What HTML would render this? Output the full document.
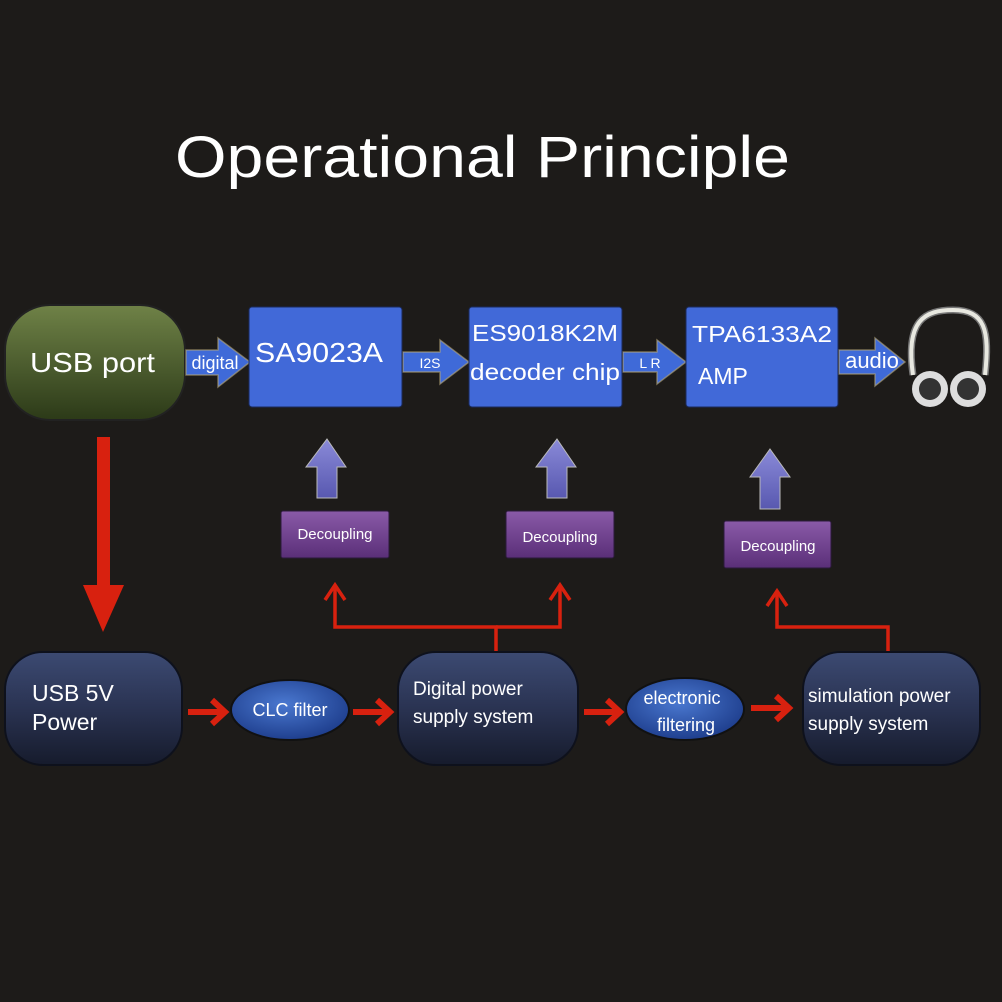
<!DOCTYPE html>
<html><head><meta charset="utf-8"><style>
html,body{margin:0;padding:0;background:#1d1b19;}
svg{display:block}
text{font-family:"Liberation Sans",sans-serif;fill:#fff}
</style></head><body>
<svg width="1002" height="1002" viewBox="0 0 1002 1002" xmlns="http://www.w3.org/2000/svg">
<defs>
<linearGradient id="gg" x1="0" y1="0" x2="0" y2="1"><stop offset="0" stop-color="#6f8247"/><stop offset="1" stop-color="#2c3a18"/></linearGradient>
<linearGradient id="nb" x1="0" y1="0" x2="0" y2="1"><stop offset="0" stop-color="#3c4a72"/><stop offset="0.5" stop-color="#2a3352"/><stop offset="1" stop-color="#161b2c"/></linearGradient>
<radialGradient id="el" cx="0.45" cy="0.4" r="0.6"><stop offset="0" stop-color="#4a78d0"/><stop offset="1" stop-color="#1f3f8e"/></radialGradient>
<linearGradient id="pu" x1="0" y1="0" x2="0" y2="1"><stop offset="0" stop-color="#8a5aa8"/><stop offset="1" stop-color="#5a2f78"/></linearGradient>
<linearGradient id="pa" x1="0" y1="0" x2="0" y2="1"><stop offset="0" stop-color="#8a8ad8"/><stop offset="1" stop-color="#5858b0"/></linearGradient>
</defs>
<rect width="1002" height="1002" fill="#1d1b19"/>
<text x="175" y="177" font-size="58" textLength="615" lengthAdjust="spacingAndGlyphs" fill="#fff">Operational Principle</text>

<!-- USB port -->
<rect x="5" y="305" width="180" height="115" rx="45" fill="url(#gg)" stroke="#222" stroke-width="2"/>
<text x="30" y="372" font-size="28" textLength="125" lengthAdjust="spacingAndGlyphs">USB port</text>

<!-- blue arrows -->
<g fill="#3f6ad8" stroke="#b8a878" stroke-width="1.5" stroke-opacity="0.6">
<polygon points="186,350 218,350 218,338 250,362 218,387 218,375 186,375"/>
<polygon points="403,352 440,352 440,340 469,362 440,384 440,372 403,372"/>
<polygon points="623,352 657,352 657,340 686,362 657,384 657,372 623,372"/>
<polygon points="839,350 875,350 875,338 905,362 875,386 875,374 839,374"/>
</g>
<text x="215" y="369" font-size="18" text-anchor="middle">digital</text>
<text x="430" y="368" font-size="14" text-anchor="middle" fill="#ddd" font-family="Liberation Serif">I2S</text>
<text x="650" y="368" font-size="14" text-anchor="middle" fill="#ddd">L R</text>
<text x="872" y="368" font-size="22" text-anchor="middle">audio</text>

<!-- blue boxes -->
<g fill="#4169d8" stroke="#1a2a5a" stroke-width="1">
<rect x="249" y="307" width="153" height="100" rx="3"/>
<rect x="469" y="307" width="153" height="100" rx="3"/>
<rect x="686" y="307" width="152" height="100" rx="3"/>
</g>
<text x="255" y="362" font-size="28" textLength="128" lengthAdjust="spacingAndGlyphs">SA9023A</text>
<text x="472" y="341" font-size="23" textLength="146" lengthAdjust="spacingAndGlyphs">ES9018K2M</text>
<text x="470" y="380" font-size="23" textLength="150" lengthAdjust="spacingAndGlyphs">decoder chip</text>
<text x="692" y="342" font-size="23" textLength="140" lengthAdjust="spacingAndGlyphs">TPA6133A2</text>
<text x="698" y="384" font-size="23">AMP</text>

<!-- headphones -->
<g fill="none" stroke="#e8e8e0" stroke-width="4">
<path d="M913 375 C905 320 925 310 953 310 C985 310 990 330 985 375" stroke="#777" stroke-width="7"/>
<path d="M913 375 C905 320 925 310 953 310 C985 310 990 330 985 375"/>
</g>
<circle cx="930" cy="389" r="18" fill="#ddd"/><circle cx="930" cy="389" r="11" fill="#333"/>
<circle cx="968" cy="389" r="18" fill="#ddd"/><circle cx="968" cy="389" r="11" fill="#333"/>

<!-- red down arrow -->
<rect x="97" y="437" width="13" height="150" fill="#d8210f"/>
<polygon points="83,585 124,585 103,632" fill="#d8210f"/>

<!-- purple up arrows -->
<g fill="url(#pa)" stroke="#bbb" stroke-width="1">
<polygon points="327,439 346,467 337,467 337,498 317,498 317,467 306,467"/>
<polygon points="557,439 576,467 567,467 567,498 547,498 547,467 536,467"/>
<polygon points="770,449 790,477 780,477 780,509 760,509 760,477 750,477"/>
</g>

<!-- decoupling -->
<g fill="url(#pu)" stroke="#2a1a3a" stroke-width="1">
<rect x="281" y="511" width="108" height="47" rx="2"/>
<rect x="506" y="511" width="108" height="47" rx="2"/>
<rect x="724" y="521" width="107" height="47" rx="2"/>
</g>
<text x="335" y="539" font-size="15" text-anchor="middle">Decoupling</text>
<text x="560" y="542" font-size="15" text-anchor="middle">Decoupling</text>
<text x="778" y="551" font-size="15" text-anchor="middle">Decoupling</text>

<!-- red connector lines -->
<g fill="none" stroke="#d8210f" stroke-width="3.5">
<polyline points="496,652 496,627 335,627 335,588"/>
<polyline points="496,627 560,627 560,588"/>
<polyline points="888,652 888,627 777,627 777,594"/>
<polyline points="325,600 335,585 345,600"/>
<polyline points="550,600 560,585 570,600"/>
<polyline points="767,606 777,591 787,606"/>
</g>

<!-- bottom nodes -->
<g fill="url(#nb)" stroke="#0e111c" stroke-width="2">
<rect x="5" y="652" width="177" height="113" rx="38"/>
<rect x="398" y="652" width="180" height="113" rx="38"/>
<rect x="803" y="652" width="177" height="113" rx="38"/>
</g>
<text x="32" y="701" font-size="23">USB 5V</text>
<text x="32" y="730" font-size="23">Power</text>
<text x="413" y="695" font-size="19">Digital power</text>
<text x="413" y="723" font-size="19">supply system</text>
<text x="808" y="702" font-size="19">simulation power</text>
<text x="808" y="730" font-size="19">supply system</text>

<ellipse cx="290" cy="710" rx="59" ry="30" fill="url(#el)" stroke="#111" stroke-width="2"/>
<text x="290" y="716" font-size="18" text-anchor="middle">CLC filter</text>
<ellipse cx="685" cy="709" rx="59" ry="31" fill="url(#el)" stroke="#111" stroke-width="2"/>
<text x="682" y="704" font-size="18" text-anchor="middle">electronic</text>
<text x="686" y="731" font-size="18" text-anchor="middle">filtering</text>

<!-- small red arrows -->
<g fill="none" stroke="#d8210f" stroke-width="6">
<line x1="188" y1="712" x2="222" y2="712"/><polyline points="212,700 225,712 212,724"/>
<line x1="353" y1="712" x2="387" y2="712"/><polyline points="377,700 390,712 377,724"/>
<line x1="584" y1="712" x2="617" y2="712"/><polyline points="607,700 620,712 607,724"/>
<line x1="751" y1="708" x2="786" y2="708"/><polyline points="776,696 789,708 776,720"/>
</g>
</svg>
</body></html>
